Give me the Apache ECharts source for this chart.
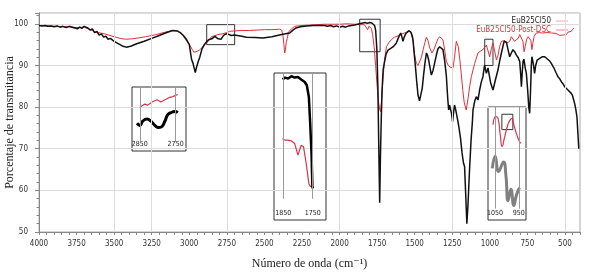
<!DOCTYPE html>
<html>
<head>
<meta charset="utf-8">
<script src="https://cdn.jsdelivr.net/npm/echarts@6/dist/echarts.min.js"></script>
<style>
  html, body { margin: 0; padding: 0; background: #fff; }
  #main { width: 593px; height: 278px; }
</style>
</head>
<body>
<div id="main"></div>
<script>
// wavenumber (cm-1), transmittance (%)
const euB25Cl50 = [
  [4000, 99.6], [3980, 99.5], [3960, 99.6], [3940, 99.4], [3920, 99.5], [3900, 99.3], [3880, 99.5],
  [3860, 99.2], [3840, 99.4], [3820, 99.1], [3800, 99.4], [3780, 99.2], [3760, 99.0], [3745, 98.8],
  [3730, 99.2], [3715, 98.9], [3700, 99.4], [3690, 99.3], [3675, 99.0], [3660, 98.5], [3645, 98.8],
  [3630, 97.9], [3615, 98.2], [3600, 97.3], [3585, 97.6], [3570, 96.8], [3555, 97.0], [3540, 96.3],
  [3525, 96.5], [3500, 95.8], [3470, 95.2], [3440, 94.6], [3420, 94.4], [3390, 94.6], [3350, 95.2],
  [3300, 95.8], [3250, 96.5], [3200, 97.2], [3150, 97.9], [3110, 98.4], [3080, 98.3], [3060, 97.9],
  [3040, 97.2], [3020, 96.2], [3000, 95.0], [2985, 91.5], [2975, 90.5], [2965, 89.0], [2960, 88.3],
  [2952, 89.5], [2940, 91.0], [2930, 92.0], [2915, 94.0], [2900, 95.0], [2885, 95.7], [2870, 96.2],
  [2858, 96.6], [2850, 96.4], [2840, 96.8], [2830, 97.0], [2819, 96.8], [2808, 96.4], [2797, 96.2],
  [2788, 96.3], [2780, 96.8], [2770, 97.3], [2755, 97.6], [2740, 97.5], [2720, 97.2], [2700, 97.3],
  [2650, 97.0], [2620, 96.8], [2560, 96.7], [2510, 96.6], [2450, 96.9], [2400, 97.3], [2360, 97.6],
  [2332, 97.8], [2310, 98.5], [2290, 99.0], [2260, 99.3], [2220, 99.5], [2178, 99.6], [2140, 99.6],
  [2100, 99.6], [2080, 99.4], [2060, 99.6], [2040, 99.3], [2020, 99.5], [2000, 99.2], [1980, 99.4],
  [1960, 99.2], [1940, 99.5], [1920, 99.6], [1900, 99.7], [1880, 99.9], [1860, 100.1], [1845, 100.2],
  [1830, 100.3], [1815, 100.1], [1800, 100.3], [1785, 100.2], [1775, 100.0], [1767, 99.6], [1760, 98.5],
  [1752, 94.0], [1745, 85.0], [1738, 68.0], [1733, 57.0], [1728, 68.0], [1722, 78.0], [1717, 84.0],
  [1710, 89.0], [1700, 91.0], [1690, 92.8], [1677, 93.7], [1665, 94.0], [1655, 94.2], [1640, 94.6],
  [1622, 95.4], [1610, 96.5], [1600, 97.3], [1593, 97.8], [1585, 96.8], [1578, 95.8], [1570, 96.8],
  [1560, 97.6], [1550, 97.8], [1540, 98.3], [1533, 98.4], [1525, 98.0], [1517, 97.2], [1511, 96.2],
  [1505, 93.5], [1495, 89.7], [1485, 85.5], [1478, 82.9], [1468, 81.5], [1460, 81.7], [1450, 84.5],
  [1442, 87.3], [1432, 90.5], [1422, 93.0], [1415, 92.5], [1407, 91.3], [1398, 89.5], [1389, 87.7],
  [1378, 88.8], [1367, 90.6], [1356, 92.5], [1345, 94.0], [1334, 94.5], [1322, 94.2], [1312, 93.8],
  [1300, 91.0], [1289, 87.3], [1280, 82.0], [1274, 79.3], [1268, 80.5], [1261, 80.9], [1255, 78.5],
  [1248, 76.5], [1242, 78.5], [1235, 80.5], [1228, 79.5], [1220, 78.0], [1212, 76.5], [1205, 75.0],
  [1195, 72.5], [1185, 69.0], [1175, 66.5], [1168, 65.7], [1160, 58.5], [1153, 52.0], [1146, 56.0],
  [1140, 61.0], [1134, 65.7], [1125, 72.0], [1116, 76.5], [1112, 79.3], [1100, 81.5], [1090, 82.5],
  [1079, 81.7], [1068, 84.1], [1057, 86.0], [1046, 87.3], [1035, 90.1], [1023, 88.1], [1012, 89.4],
  [1003, 87.5], [994, 85.7], [979, 84.1], [963, 86.5], [946, 88.9], [935, 91.0], [923, 93.0],
  [905, 95.8], [890, 95.6], [880, 94.0], [868, 92.1], [857, 93.0], [846, 93.8], [835, 93.3],
  [823, 92.5], [810, 91.8], [801, 90.9], [795, 88.0], [790, 84.9], [784, 88.5], [779, 91.0],
  [773, 91.5], [765, 89.5], [757, 88.1], [748, 84.0], [741, 80.0], [735, 78.5], [729, 84.0],
  [724, 90.0], [720, 92.1], [711, 90.5], [702, 88.1], [695, 90.0], [685, 91.3], [668, 91.7],
  [650, 92.1], [635, 92.1], [615, 91.5], [600, 91.0], [591, 90.5], [575, 89.5], [560, 88.3],
  [547, 87.3], [535, 86.8], [524, 86.1], [513, 85.6], [502, 84.9], [490, 84.5], [480, 84.1],
  [470, 83.8], [458, 83.3], [450, 82.8], [445, 82.5], [436, 80.9], [428, 79.5], [420, 77.5],
  [414, 73.7], [408, 70.0]
];

const euB25Cl50PostDsc = [
  [4000, 99.6], [3900, 99.4], [3800, 99.3], [3750, 99.1], [3700, 99.2], [3660, 98.6], [3622, 98.0],
  [3590, 97.8], [3556, 97.5], [3500, 96.9], [3460, 96.5], [3423, 96.3], [3380, 96.4], [3340, 96.6],
  [3290, 96.9], [3223, 97.4], [3160, 98.0], [3112, 98.4], [3080, 98.3], [3064, 97.9], [3040, 97.3],
  [3020, 96.6], [3009, 95.7], [2995, 94.8], [2980, 93.8], [2970, 93.2], [2964, 93.0], [2955, 93.3],
  [2945, 93.7], [2935, 93.6], [2925, 94.0], [2910, 94.5], [2898, 94.9], [2885, 95.4], [2870, 96.0],
  [2853, 96.9], [2835, 97.1], [2810, 97.4], [2780, 97.6], [2750, 97.9], [2731, 98.2], [2700, 98.3],
  [2650, 98.4], [2600, 98.4], [2550, 98.5], [2500, 98.6], [2450, 98.6], [2400, 98.7], [2385, 98.5],
  [2376, 97.0], [2370, 95.0], [2365, 93.0], [2360, 93.8], [2355, 95.5], [2348, 96.5], [2340, 98.0],
  [2320, 98.8], [2298, 99.4], [2250, 99.6], [2200, 99.7], [2150, 99.8], [2100, 99.9], [2000, 99.9],
  [1950, 100.0], [1900, 99.9], [1860, 99.8], [1850, 99.7], [1835, 99.8], [1822, 99.6], [1813, 98.6],
  [1805, 99.4], [1795, 99.2], [1788, 98.9], [1780, 97.4], [1770, 94.5], [1760, 90.0], [1750, 85.0],
  [1740, 81.0], [1733, 79.5], [1727, 78.9], [1720, 82.0], [1710, 87.3], [1700, 91.5], [1688, 94.5],
  [1670, 95.6], [1655, 96.2], [1635, 96.8], [1611, 97.1], [1590, 97.5], [1567, 97.8], [1550, 98.1],
  [1533, 98.4], [1522, 97.5], [1511, 95.8], [1500, 92.5], [1489, 90.5], [1478, 90.0], [1467, 90.1],
  [1455, 92.0], [1444, 93.8], [1432, 95.5], [1422, 96.8], [1412, 96.0], [1400, 94.2], [1385, 93.0],
  [1370, 94.0], [1356, 95.4], [1345, 96.4], [1334, 96.9], [1322, 96.7], [1312, 96.2], [1300, 93.5],
  [1289, 91.0], [1278, 90.1], [1265, 89.6], [1245, 89.4], [1235, 92.0], [1223, 95.8], [1210, 94.5],
  [1200, 91.5], [1190, 88.0], [1180, 84.0], [1170, 81.0], [1157, 79.3], [1145, 82.0], [1134, 85.0],
  [1123, 87.3], [1101, 90.5], [1079, 93.0], [1060, 93.5], [1046, 93.8], [1035, 94.3], [1023, 94.9],
  [1012, 93.5], [1001, 92.1], [990, 94.0], [979, 95.4], [968, 93.5], [956, 91.3], [945, 92.5],
  [935, 94.5], [923, 95.8], [912, 96.2], [901, 96.0], [890, 95.3], [879, 94.9], [868, 95.8],
  [857, 96.9], [845, 96.6], [835, 95.8], [823, 95.4], [812, 96.5], [801, 97.4], [790, 97.0],
  [780, 95.8], [772, 93.3], [765, 94.5], [755, 96.3], [745, 96.9], [735, 96.9], [727, 96.0],
  [720, 93.8], [713, 95.5], [705, 97.0], [691, 97.8], [670, 97.9], [650, 97.8], [620, 97.9],
  [590, 97.8], [560, 97.7], [548, 97.6], [535, 97.2], [524, 96.9], [515, 97.3], [502, 97.6],
  [490, 97.4], [480, 98.0], [469, 98.4], [458, 98.2], [450, 98.7], [446, 98.6], [440, 98.9]
];

// zoomed insets
const inset1Black = [[2858, 96.6], [2850, 96.4], [2842, 96.8], [2830, 97.0], [2819, 96.8], [2808, 96.4],
  [2797, 96.2], [2788, 96.3], [2780, 96.8], [2772, 97.4], [2763, 97.6], [2752, 97.7], [2744, 97.6]];
const inset1Red = [[2850, 98.1], [2836, 98.4], [2828, 98.3], [2816, 98.6], [2802, 98.8], [2791, 98.6],
  [2780, 98.8], [2769, 99.0], [2758, 99.1], [2744, 99.3]];
const inset2Black = [[1852, 100.6], [1844, 100.72], [1833, 100.66], [1822, 100.8], [1811, 100.72],
  [1800, 100.76], [1789, 100.6], [1777, 100.45], [1770, 100.25], [1763, 99.53], [1759, 98.11],
  [1754, 96.07], [1751, 94.03], [1749, 93.93]];
const inset2Red = [[1852, 96.99], [1844, 96.89], [1833, 96.89], [1822, 96.84], [1811, 96.68],
  [1800, 95.97], [1789, 96.58], [1781, 96.48], [1772, 95.46], [1763, 94.24], [1759, 94.07], [1752, 94.03]];
const inset3Gray = [[1061, 90.4], [1049, 91.9], [1035, 90.0], [1014, 91.2], [1004, 89.5], [995, 86.4],
  [983, 87.8], [971, 85.8], [960, 87.1], [947, 88.0]];
const inset3Red = [[1058, 95.8], [1047, 96.8], [1037, 96.6], [1028, 94.6], [1020, 93.1], [1010, 94.2],
  [996, 95.8], [986, 96.4], [978, 96.6], [971, 95.8], [961, 94.8], [954, 94.2], [947, 93.7], [940, 93.5]];

const xLabels = [4000, 3750, 3500, 3250, 3000, 2750, 2500, 2250, 2000, 1750, 1500, 1250, 1000, 750, 500];
const vGridLines = [3500, 3250, 2750, 2000, 1250, 500];
// zoom boxes on the main spectrum: [wavenumber, %T] corners
const zoomBoxes = [
  [[2884, 99.8], [2698, 95.0]],
  [[1866, 101.1], [1730, 93.3]],
  [[1034, 96.3], [979, 90.0]]
];
const inset3Box = [[1021, 97.1], [975, 95.2]];

const tickFont = "'Liberation Sans Narrow', 'DejaVu Sans Condensed', sans-serif";
const titleFont = "'Liberation Serif', 'DejaVu Serif', serif";
const plain = v => String(v);

const xTicks = [];
for (let v = 400; v <= 4000; v += 50) xTicks.push(v);

function insetX(min, max, labels) {
  return {
    type: 'value', inverse: true, min: min, max: max,
    axisLine: { show: false }, axisTick: { show: false }, splitLine: { show: false },
    axisLabel: { inside: true, customValues: labels, formatter: plain, fontSize: 7, color: '#222', margin: 3, fontFamily: tickFont }
  };
}
function insetY(min, max) {
  return { type: 'value', min: min, max: max, show: false, splitLine: { show: false } };
}
function vLines(xs, top, bottom) {
  return {
    silent: true, symbol: ['none', 'none'], label: { show: false },
    lineStyle: { color: '#9a9a9a', width: 1, type: 'solid' },
    data: xs.map(x => [{ coord: [x, top] }, { coord: [x, bottom] }])
  };
}
function boxArea(list) {
  return {
    silent: true,
    itemStyle: { color: 'rgba(0,0,0,0)', borderColor: '#333', borderWidth: 1 },
    data: list.map(b => [{ coord: b[0] }, { coord: b[1] }])
  };
}
function insetGrid(left, top, width, height) {
  return {
    left: left, top: top, width: width, height: height, show: true,
    borderColor: '#333', borderWidth: 1, containLabel: false, outerBoundsMode: 'none'
  };
}

let chart = echarts.init(document.getElementById('main'));
let option = {
  animation: false,
  backgroundColor: '#fff',
  legend: {
    orient: 'vertical', right: 20, top: 12, align: 'right',
    itemWidth: 12, itemHeight: 6, itemGap: 1,
    textStyle: { fontSize: 8, fontFamily: tickFont },
    data: [
      { name: 'EuB25Cl50', icon: 'path://M0,0H12V1H0Z', textStyle: { color: '#222' }, itemStyle: { color: '#e9a9b0' } },
      { name: 'EuB25Cl50-Post-DSC', icon: 'path://M0,0H12V1H0Z', textStyle: { color: '#e0303c' }, itemStyle: { color: '#ee8590' } }
    ]
  },
  grid: [
    { left: 39, right: 13, top: 13, bottom: 46, show: true, borderColor: '#aaa', borderWidth: 1, containLabel: false, outerBoundsMode: 'none' },
    insetGrid(132, 87, 54, 64),
    insetGrid(274, 73, 52, 147),
    insetGrid(488, 107, 38, 113)
  ],
  xAxis: [
    {
      type: 'value', inverse: true, min: 400, max: 4000, gridIndex: 0,
      name: 'Número de onda (cm⁻¹)', nameLocation: 'middle', nameGap: 26, nameMoveOverlap: false,
      nameTextStyle: { fontFamily: titleFont, fontSize: 12, color: '#222' },
      axisLine: { lineStyle: { color: '#888' } },
      axisTick: { customValues: xTicks, length: 3, lineStyle: { color: '#888' } },
      axisLabel: { customValues: xLabels, formatter: plain, fontSize: 8, color: '#333', margin: 8, fontFamily: tickFont },
      splitLine: { show: false }
    },
    Object.assign(insetX(2721, 2872, [2850, 2750]), { gridIndex: 1 }),
    Object.assign(insetX(1705, 1881, [1850, 1750]), { gridIndex: 2 }),
    Object.assign(insetX(920, 1079, [1050, 950]), { gridIndex: 3 })
  ],
  yAxis: [
    {
      type: 'value', min: 50, max: 102.6, interval: 10, gridIndex: 0,
      name: 'Porcentaje de transmitancia', nameLocation: 'middle', nameGap: 23, nameMoveOverlap: false,
      nameTextStyle: { fontFamily: titleFont, fontSize: 12, color: '#222' },
      axisLine: { show: true, lineStyle: { color: '#888' } },
      axisTick: { show: true, length: 4, lineStyle: { color: '#888' } },
      minorTick: { show: true, splitNumber: 5, length: 2.5, lineStyle: { color: '#888' } },
      axisLabel: { fontSize: 8, color: '#333', margin: 11, showMaxLabel: false, formatter: plain, fontFamily: tickFont },
      splitLine: { show: true, lineStyle: { color: '#dcdcdc', width: 1 } }
    },
    Object.assign(insetY(94, 100), { gridIndex: 1 }),
    Object.assign(insetY(92, 101), { gridIndex: 2 }),
    Object.assign(insetY(84, 98), { gridIndex: 3 })
  ],
  series: [
    {
      name: 'grid', type: 'line', data: [], z: 1, silent: true,
      markLine: {
        silent: true, symbol: ['none', 'none'], label: { show: false },
        lineStyle: { color: '#dcdcdc', width: 1, type: 'solid' },
        data: vGridLines.map(v => ({ xAxis: v }))
      }
    },
    {
      name: 'EuB25Cl50-Post-DSC', type: 'line', data: euB25Cl50PostDsc, symbol: 'none', z: 2,
      lineStyle: { color: '#e0303c', width: 1 }, itemStyle: { color: '#e0303c' }
    },
    {
      name: 'EuB25Cl50', type: 'line', data: euB25Cl50, symbol: 'none', z: 3,
      lineStyle: { color: '#111', width: 1.5 }, itemStyle: { color: '#111' },
      markArea: boxArea(zoomBoxes)
    },
    {
      type: 'line', xAxisIndex: 1, yAxisIndex: 1, data: inset1Red, symbol: 'none',
      lineStyle: { color: '#d8344a', width: 1.2 }, markLine: vLines([2850, 2750], 100, 94.85)
    },
    {
      type: 'line', xAxisIndex: 1, yAxisIndex: 1, data: inset1Black, symbol: 'none', smooth: true,
      lineStyle: { color: '#000', width: 3 }
    },
    {
      type: 'line', xAxisIndex: 2, yAxisIndex: 2, data: inset2Red, symbol: 'none',
      lineStyle: { color: '#d8344a', width: 1.2 }, markLine: vLines([1850, 1750], 101, 93.3)
    },
    {
      type: 'line', xAxisIndex: 2, yAxisIndex: 2, data: inset2Black, symbol: 'none',
      lineStyle: { color: '#000', width: 2.5 }
    },
    {
      type: 'line', xAxisIndex: 3, yAxisIndex: 3, data: inset3Red, symbol: 'none', smooth: true,
      lineStyle: { color: '#d8344a', width: 1.2 }, markLine: vLines([1050, 950], 98, 85.4),
      markArea: boxArea([inset3Box])
    },
    {
      type: 'line', xAxisIndex: 3, yAxisIndex: 3, data: inset3Gray, symbol: 'none', smooth: true,
      lineStyle: { color: '#808080', width: 3 }
    }
  ]
};
option && chart.setOption(option);
</script>
</body>
</html>
